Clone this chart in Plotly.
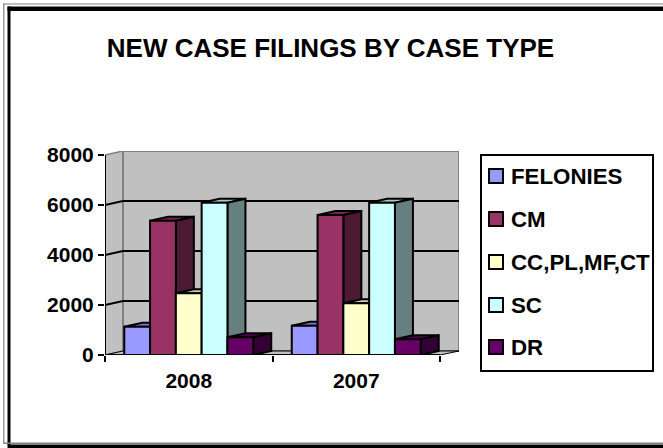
import plotly.graph_objects as go

years = ["2008", "2007"]
series_names = ["FELONIES", "CM", "CC,PL,MF,CT", "SC", "DR"]
felonies = [1130, 1170]
cm = [5370, 5600]
cc = [2470, 2070]
sc = [6090, 6090]
dr = [710, 630]
y_ticks = [0, 2000, 4000, 6000, 8000]
front_colors = ["#9999FF", "#993366", "#FFFFCC", "#CCFFFF", "#660066"]
top_colors = ["#7A7ACC", "#7A2952", "#CCCCA3", "#A3CCCC", "#520052"]
side_colors = ["#4D4D80", "#4D1A33", "#808066", "#668080", "#330033"]
all_values = [felonies, cm, cc, sc, dr]

W, H = 663, 448
L, R, T, B = 105, 459, 151, 355
CAT_PX = 167.5
x_max = (R - L) / CAT_PX
y_max = (B - T) * 40
DX = 18 / CAT_PX
DY = 4 * 40
BAR_W = 0.154
FONT = "Liberation Sans"


def px(x):
    return (x - L) / (R - L)


def py(y):
    return (B - y) / (B - T)


def poly(points):
    return "M" + "L".join(f"{a},{b}" for a, b in points) + "Z"


shapes = []


def data_poly(points, fill, line="black", width=2):
    shapes.append(dict(type="path", path=poly(points), xref="x", yref="y", fillcolor=fill,
                       line=dict(color=line, width=width), layer="below"))


def data_line(x0, y0, x1, y1, color="black", width=2, layer="below"):
    shapes.append(dict(type="line", x0=x0, y0=y0, x1=x1, y1=y1, xref="x", yref="y",
                       line=dict(color=color, width=width), layer=layer))


# Walls
data_poly([(0, 0), (DX, DY), (DX, 8000 + DY), (0, 8000)], "#C0C0C0", "#808080", 1.5)
data_poly([(DX, DY), (x_max, DY), (x_max, 8000 + DY), (DX, 8000 + DY)], "#C0C0C0", "#808080", 2)
data_poly([(0, 0), (DX, DY), (x_max, DY), (2, 0)], "#C0C0C0", "black", 1)
for t in y_ticks[1:-1]:
    data_line(0, t, DX, t + DY)
    data_line(DX, t + DY, x_max, t + DY)

# Depth faces of the bars
for c in range(len(years)):
    centre = c + 0.5
    for i, vals in enumerate(all_values):
        v = vals[c]
        x0 = centre + (i - 2.5) * BAR_W
        x1 = x0 + BAR_W
        data_poly([(x0, v), (x0 + DX, v + DY), (x1 + DX, v + DY), (x1, v)], top_colors[i])
        data_poly([(x1, 0), (x1 + DX, DY), (x1 + DX, v + DY), (x1, v)], side_colors[i])

# Front axis lines
data_line(0, 0, 0, 8000, layer="above")
data_line(0, 0, 2, 0, layer="above")

fig = go.Figure()
for name, vals, col in zip(series_names, all_values, front_colors):
    fig.add_trace(go.Bar(name=name, x=[0.5, 1.5], y=vals, marker=dict(color=col, line=dict(color="black", width=2)),
                         showlegend=False))

# Frame
paper = dict(xref="paper", yref="paper")
for (x0, y0, x1, y1, col) in [
    (3, 3.5, 663, 4.5, "#808080"), (3.2, 3.5, 4.4, 443, "#808080"),
    (7.5, 6.5, 663, 11, "black"), (7.5, 6.5, 10.5, 445, "black"),
    (3.2, 442.5, 663, 444, "#808080"), (7.5, 444.5, 663, 448, "black"),
]:
    shapes.append(dict(type="rect", x0=px(x0), x1=px(x1), y0=py(y0), y1=py(y1), fillcolor=col,
                       line=dict(width=0), layer="below", **paper))

# Legend
annotations = []
LEG_L, LEG_R, LEG_T, LEG_B = 481, 653, 155, 371
shapes.append(dict(type="rect", x0=px(LEG_L), x1=px(LEG_R), y0=py(LEG_T), y1=py(LEG_B), fillcolor="white",
                   line=dict(color="black", width=2), **paper))
leg_y = [176, 219, 262, 305, 347]
for name, col, yy in zip(series_names, front_colors, leg_y):
    shapes.append(dict(type="rect", x0=px(489), x1=px(503), y0=py(yy - 7), y1=py(yy + 7), fillcolor=col,
                       line=dict(color="black", width=2), **paper))
    annotations.append(dict(text=f"<b>{name}</b>", x=px(509), y=py(yy), xanchor="left", yanchor="middle",
                            showarrow=False, font=dict(family=FONT, size=22.3, color="black"), **paper))

fig.update_layout(
    width=W, height=H, autosize=False,
    margin=dict(l=L, r=W - R, t=T, b=H - B),
    paper_bgcolor="white", plot_bgcolor="white",
    barmode="group", bargap=1 - 5 * BAR_W, bargroupgap=0,
    showlegend=False, shapes=shapes, annotations=annotations,
    title=dict(text="<b>NEW CASE FILINGS BY CASE TYPE</b>", x=330.5 / W, xanchor="center", y=1 - 48 / H, yanchor="middle",
               font=dict(family=FONT, size=26, color="black")),
    font=dict(family=FONT, color="black"),
    xaxis=dict(range=[0, x_max], tickvals=[0.5, 1.5], ticktext=[f"<b>{y}</b>" for y in years], ticks="",
               showgrid=False, zeroline=False, showline=False, ticklabelstandoff=11,
               tickfont=dict(family=FONT, size=21, color="black"),
               minor=dict(tickvals=[0, 1, 2], ticks="outside", ticklen=6, tickwidth=2, tickcolor="black", showgrid=False)),
    yaxis=dict(range=[0, y_max], tickvals=y_ticks, ticktext=[f"<b>{t}</b>" for t in y_ticks], ticks="outside",
               ticklen=6, tickwidth=2, tickcolor="black", showgrid=False, zeroline=False, showline=False,
               tickfont=dict(family=FONT, size=21, color="black")),
)
fig.write_html("out.html", config=dict(displayModeBar=False),
               post_script="document.body.style.margin='0';document.body.style.overflow='hidden';")
